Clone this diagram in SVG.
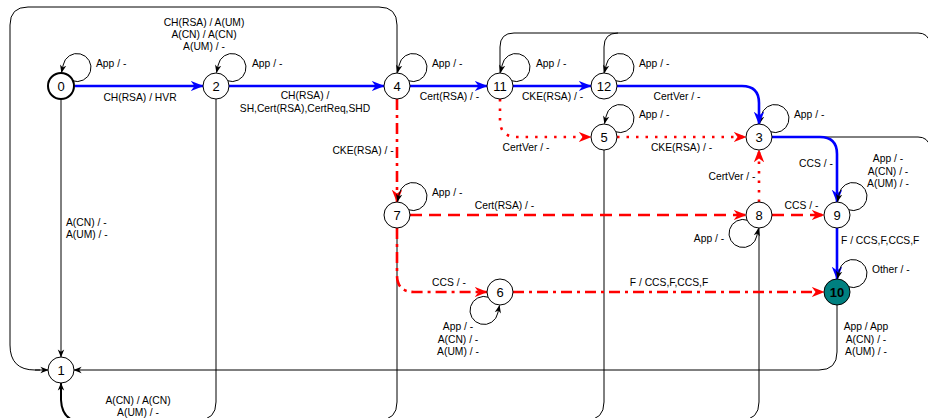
<svg xmlns="http://www.w3.org/2000/svg" width="928" height="418" viewBox="0 0 928 418">
<defs>
<marker id="ak" viewBox="0 0 10 10" refX="9.5" refY="5" markerWidth="8" markerHeight="8" markerUnits="userSpaceOnUse" orient="auto"><path d="M0,1 L10,5 L0,9 L3,5 Z" fill="#000"/></marker>
<marker id="ab" viewBox="0 0 10 10" refX="9.5" refY="5" markerWidth="13" markerHeight="13" markerUnits="userSpaceOnUse" orient="auto"><path d="M0,1 L10,5 L0,9 L3,5 Z" fill="#0000FF"/></marker>
<marker id="ar" viewBox="0 0 10 10" refX="9.5" refY="5" markerWidth="13" markerHeight="13" markerUnits="userSpaceOnUse" orient="auto"><path d="M0,1 L10,5 L0,9 L3,5 Z" fill="#FF0000"/></marker>
</defs>
<style>
.k{fill:none;stroke:#000;stroke-width:1}
.kl{fill:none;stroke:#000;stroke-width:1;marker-end:url(#ak)}
.b{fill:none;stroke:#0000FF;stroke-width:2.6;marker-end:url(#ab)}
.rdd{fill:none;stroke:#FF0000;stroke-width:2.6;stroke-dasharray:11 5 3 5;marker-end:url(#ar)}
.rd{fill:none;stroke:#FF0000;stroke-width:2.6;stroke-dasharray:12 7;marker-end:url(#ar)}
.rt{fill:none;stroke:#FF0000;stroke-width:2.6;stroke-dasharray:2.5 7;marker-end:url(#ar)}
text{font-family:"Liberation Sans",Arial,sans-serif;font-size:10.3px;fill:#000}
.m{text-anchor:middle}
.n circle{fill:#fff;stroke:#000;stroke-width:1}
.n text{font-size:13px;text-anchor:middle}
</style>
<rect width="928" height="418" fill="#fff"/>
<g id="connectors">
<!-- black long connectors -->
<path class="k" d="M397 73 L397 25 Q397 7 379 7 L28 7 Q10 7 10 25 L10 345 Q10 370 35 370 L40 370"/>
<path class="kl" d="M35 370 L48 370"/>
<path class="k" d="M500 73 L500 47 Q500 33 514 33 L918 33 Q928 33 930 43"/>
<path class="k" d="M604 73 L604 47 Q604 33 618 33"/>
<path class="k" d="M772 137 L918 137 Q928 137 930 147"/>
<path class="kl" d="M61 99 L61 357"/>
<path class="kl" d="M837 305 L837 352 Q837 370 819 370 L74 370"/>
<path class="k" d="M216 99 L216 402 Q216 420 198 420"/>
<path class="k" d="M397 228 L397 402 Q397 420 379 420"/>
<path class="k" d="M604 150 L604 402 Q604 420 586 420"/>
<path class="k" d="M759 228 L759 402 Q759 420 741 420"/>
<path fill="none" stroke="#000" stroke-width="2" marker-end="url(#ak)" d="M80 422 Q62 420 61 400 L61 383"/>
<!-- self loops (top-right) -->
<path class="kl" d="M72.2 80.7 A14 14 0 1 0 63.2 65 L61.5 72.5"/>
<path class="kl" d="M227.2 80.7 A14 14 0 1 0 218.2 65 L216.5 72.5"/>
<path class="kl" d="M408.2 80.7 A14 14 0 1 0 399.2 65 L397.5 72.5"/>
<path class="kl" d="M511.2 80.7 A14 14 0 1 0 502.2 65 L500.5 72.5"/>
<path class="kl" d="M615.2 80.7 A14 14 0 1 0 606.2 65 L604.5 72.5"/>
<path class="kl" d="M615.2 131.7 A14 14 0 1 0 606.2 116 L604.5 123.5"/>
<path class="kl" d="M770.2 131.7 A14 14 0 1 0 761.2 116 L759.5 123.5"/>
<!-- self loops (bottom-left) -->
<path class="kl" d="M747.8 220.3 A14 14 0 1 0 756.8 236 L758.5 228.5"/>
<path class="kl" d="M488.8 297.3 A14 14 0 1 0 497.8 313 L499.5 305.5"/>
<!-- blue -->
<path class="b" d="M75 86 L203 86"/>
<path class="b" d="M229 86 L384 86"/>
<path class="b" d="M410 86 L487 86"/>
<path class="b" d="M513 86 L591 86"/>
<path class="b" d="M617 86 L742 86 Q759 86 759 103 L759 124"/>
<path class="b" d="M772 137 L820 137 Q837 137 837 154 L837 202"/>
<path class="b" d="M837 228 L837 279"/>
<!-- red -->
<path class="rdd" d="M397 99 L397 202"/>
<path class="rdd" d="M397 228 L397 275 Q397 292 414 292 L487 292"/>
<path class="rdd" d="M513 292 L824 292"/>
<path class="rd" d="M410 215 L746 215"/>
<path class="rd" d="M772 215 L824 215"/>
<path class="rt" d="M500 99 L500 120 Q500 137 517 137 L591 137"/>
<path class="rt" d="M617 137 L746 137"/>
<path class="rt" d="M759 202 L759 150"/>
<!-- loops drawn over incoming lines -->
<path class="kl" d="M408.2 209.7 A14 14 0 1 0 399.2 194 L397.5 201.5"/>
<path class="kl" d="M848.2 209.7 A14 14 0 1 0 839.2 194 L837.5 201.5"/>
<path class="kl" d="M848.2 286.7 A14 14 0 1 0 839.2 271 L837.5 278.5"/>
</g>
<g id="labels">
<text class="m" x="140" y="100.5">CH(RSA) / HVR</text>
<text class="m" x="305" y="99">CH(RSA) /</text>
<text class="m" x="305" y="112">SH,Cert(RSA),CertReq,SHD</text>
<text class="m" x="449.5" y="100">Cert(RSA) / -</text>
<text class="m" x="552.5" y="100">CKE(RSA) / -</text>
<text class="m" x="677" y="100">CertVer / -</text>
<text x="96" y="67">App / -</text>
<text x="252" y="67">App / -</text>
<text x="432" y="67">App / -</text>
<text x="536" y="67">App / -</text>
<text x="639" y="67">App / -</text>
<text class="m" x="204" y="25.5">CH(RSA) / A(UM)</text>
<text class="m" x="204" y="37.8">A(CN) / A(CN)</text>
<text class="m" x="204" y="50">A(UM) / -</text>
<text x="639" y="118">App / -</text>
<text x="794" y="118">App / -</text>
<text class="m" x="526" y="151">CertVer / -</text>
<text class="m" x="681.5" y="151">CKE(RSA) / -</text>
<text class="m" x="363" y="154">CKE(RSA) / -</text>
<text class="m" x="816" y="167">CCS / -</text>
<text class="m" x="732" y="180">CertVer / -</text>
<text class="m" x="888" y="162">App / -</text>
<text class="m" x="888" y="175">A(CN) / -</text>
<text class="m" x="888" y="187">A(UM) / -</text>
<text x="432" y="196">App / -</text>
<text class="m" x="504.5" y="209">Cert(RSA) / -</text>
<text class="m" x="801.5" y="209">CCS / -</text>
<text x="841" y="244">F / CCS,F,CCS,F</text>
<text class="m" x="709" y="242">App / -</text>
<text x="66" y="226">A(CN) / -</text>
<text x="66" y="238">A(UM) / -</text>
<text class="m" x="449" y="286">CCS / -</text>
<text class="m" x="669" y="286">F / CCS,F,CCS,F</text>
<text x="872" y="273">Other / -</text>
<text class="m" x="458" y="330">App / -</text>
<text class="m" x="458" y="342.5">A(CN) / -</text>
<text class="m" x="458" y="354.5">A(UM) / -</text>
<text class="m" x="866" y="330">App / App</text>
<text class="m" x="866" y="342.5">A(CN) / -</text>
<text class="m" x="866" y="354.5">A(UM) / -</text>
<text class="m" x="138" y="404">A(CN) / A(CN)</text>
<text class="m" x="138" y="415.5">A(UM) / -</text>
</g>
<g id="node-0" class="n"><circle cx="61" cy="86" r="13" style="stroke-width:2"/><text x="61" y="90.5">0</text></g>
<g id="node-2" class="n"><circle cx="216" cy="86" r="13"/><text x="216" y="90.5">2</text></g>
<g id="node-4" class="n"><circle cx="397" cy="86" r="13"/><text x="397" y="90.5">4</text></g>
<g id="node-11" class="n"><circle cx="500" cy="86" r="13"/><text x="500" y="90.5">11</text></g>
<g id="node-12" class="n"><circle cx="604" cy="86" r="13"/><text x="604" y="90.5">12</text></g>
<g id="node-5" class="n"><circle cx="604" cy="137" r="13"/><text x="604" y="141.5">5</text></g>
<g id="node-3" class="n"><circle cx="759" cy="137" r="13"/><text x="759" y="141.5">3</text></g>
<g id="node-7" class="n"><circle cx="397" cy="215" r="13"/><text x="397" y="219.5">7</text></g>
<g id="node-8" class="n"><circle cx="759" cy="215" r="13"/><text x="759" y="219.5">8</text></g>
<g id="node-9" class="n"><circle cx="837" cy="215" r="13"/><text x="837" y="219.5">9</text></g>
<g id="node-6" class="n"><circle cx="500" cy="292" r="13"/><text x="500" y="296.5">6</text></g>
<g id="node-10" class="n"><circle cx="837" cy="292" r="13" style="fill:#008080"/><text x="837" y="296.5" style="font-weight:bold">10</text></g>
<g id="node-1" class="n"><circle cx="61" cy="370" r="13"/><text x="61" y="374.5">1</text></g>
</svg>
